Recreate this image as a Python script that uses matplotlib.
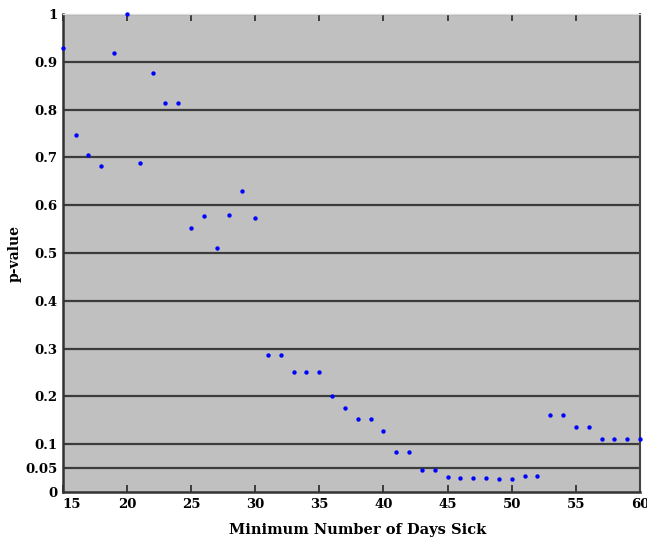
import matplotlib
matplotlib.use("Agg")
import matplotlib.pyplot as plt

days = list(range(15, 61))
p_values = [0.929, 0.746, 0.706, 0.683, 0.918, 1.000, 0.689, 0.876, 0.813, 0.813,
            0.552, 0.578, 0.511, 0.580, 0.630, 0.574, 0.286, 0.286, 0.252, 0.252,
            0.252, 0.201, 0.175, 0.153, 0.153, 0.128, 0.084, 0.084, 0.045, 0.045,
            0.032, 0.030, 0.030, 0.030, 0.028, 0.028, 0.034, 0.034, 0.162, 0.162,
            0.137, 0.137, 0.111, 0.111, 0.111, 0.111]
y_ticks = [0, 0.05, 0.1, 0.2, 0.3, 0.4, 0.5, 0.6, 0.7, 0.8, 0.9, 1]
y_tick_labels = ["0", "0.05", "0.1", "0.2", "0.3", "0.4", "0.5", "0.6", "0.7", "0.8", "0.9", "1"]
x_ticks = [15, 20, 25, 30, 35, 40, 45, 50, 55, 60]

W, H = 647, 543
fig = plt.figure(figsize=(W / 100, H / 100), dpi=100)
ax = fig.add_axes([62.7 / W, 1 - 492 / H, (640 - 62.7) / W, (492 - 14) / H])
ax.set_facecolor("#c0c0c0")

for yt in y_ticks[1:]:
    ax.axhline(yt, color="#3c3c3c", lw=1.6, zorder=1)

ax.scatter(days, p_values, s=10, color="#0000ff", zorder=3, clip_on=False, linewidths=0)

ax.set_xlim(15, 60)
ax.set_ylim(0, 1)
ax.set_xticks(x_ticks)
ax.set_xticklabels([str(v) for v in x_ticks])
ax.set_yticks(y_ticks)
ax.set_yticklabels(y_tick_labels)

for lbl in ax.get_xticklabels() + ax.get_yticklabels():
    lbl.set_fontfamily("DejaVu Serif")
    lbl.set_fontweight("bold")
    lbl.set_fontsize(9.5)

# first x label sits slightly to the right of its tick, as in the reference
ax.get_xticklabels()[0].set_horizontalalignment("left")

ax.tick_params(axis="x", direction="in", length=5, width=1.3, color="#333333",
               top=True, bottom=True, pad=4)
ax.tick_params(axis="y", length=0, pad=3.5)

for side in ["left", "bottom"]:
    ax.spines[side].set_color("#333333")
    ax.spines[side].set_linewidth(1.8)
ax.spines["right"].set_color("#444444")
ax.spines["right"].set_linewidth(1.5)
ax.spines["top"].set_color("#dddddd")
ax.spines["top"].set_linewidth(1.0)

fig.text(358 / W, 1 - 530 / H, "Minimum Number of Days Sick", ha="center", va="center",
         family="DejaVu Serif", weight="bold", size=10.5)
fig.text(15 / W, 1 - 253 / H, "p-value", ha="center", va="center", rotation=90,
         family="DejaVu Serif", weight="bold", size=10)

fig.savefig("out.png", dpi=100, facecolor="white")
